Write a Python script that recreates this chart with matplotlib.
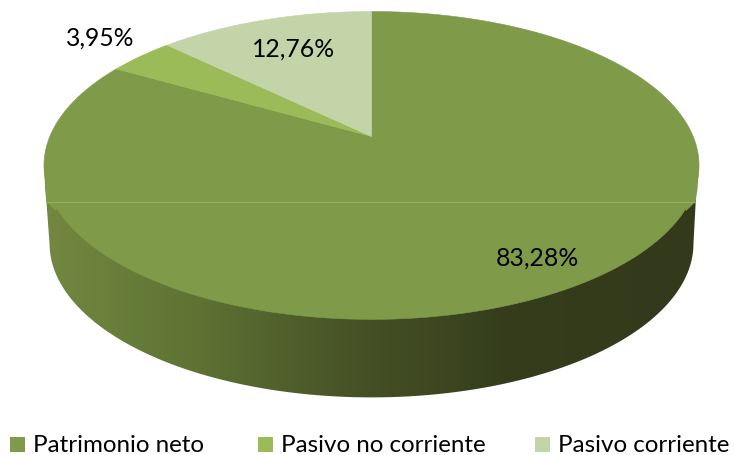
import numpy as np
import matplotlib
matplotlib.use("Agg")
import matplotlib.pyplot as plt
from matplotlib.colors import LinearSegmentedColormap
from matplotlib.patches import Polygon, Rectangle

plt.rcParams["font.family"] = ["Lato", "DejaVu Sans"]

categories = ["Patrimonio neto", "Pasivo no corriente", "Pasivo corriente"]
shares = [83.28, 3.95, 12.76]
share_labels = ["83,28%", "3,95%", "12,76%"]
colors = ["#7f9a48", "#9bbb59", "#c3d5a8"]
wall_stops = [0.0, 0.02, 0.13, 0.24, 0.39, 0.5, 0.59, 0.7, 1.0]
wall_colors = ["#73883f", "#71873f", "#667c39", "#5e7233", "#4e5d2b", "#454f24", "#3f4821", "#353d1c", "#323a1b"]

# pie geometry in pixels, the disc is a tilted circle seen in perspective
CX, CY = 371.5, 137.5
RX, RY = 321.7, 148.5
K = 0.188
DEPTH = 78
WALL_SCALE = 0.983


def rim(t, scale=1.0, dy=0.0):
    """Project angle t (clockwise from the top, radians) onto the disc."""
    u, v = np.sin(t), np.cos(t)
    w = 1 + K * v
    return CX + scale * RX * u / w, CY - RY * v / w + dy


fig = plt.figure(figsize=(7.34, 4.56), dpi=100)
ax = fig.add_axes([0, 0, 1, 1])

# side wall, horizontal gradient clipped to the lower rim
t_side = np.arccos(-K)
t_wall = np.linspace(t_side, 2 * np.pi - t_side, 240)
xb, yb = rim(t_wall, WALL_SCALE, DEPTH)
wall_pts = np.vstack([[696, 197], np.column_stack([xb, yb]), [46, 197]])
clip = Polygon(wall_pts, closed=True, transform=ax.transData, fc="none", ec="none")
ax.add_patch(clip)
cmap = LinearSegmentedColormap.from_list("wall", list(zip(wall_stops, wall_colors)))
im = ax.imshow(np.linspace(0, 1, 256)[None, :], extent=[44, 697, 400, 190], aspect="auto", cmap=cmap)
im.set_clip_path(clip)

# top face, slices run clockwise from 12 o'clock
start = 0.0
for share, color in zip(shares, colors):
    sweep = share / sum(shares) * 2 * np.pi
    t = np.linspace(start, start + sweep, 300)
    x, y = rim(t)
    pts = np.vstack([[CX, CY], np.column_stack([x, y])])
    ax.add_patch(Polygon(pts, closed=True, fc=color, ec=color, lw=0.4, zorder=3))
    start += sweep

# the disc is a bit boxier than an ellipse just above the seam
ax.add_patch(Polygon([(44.2, 166), (45, 190), (46.5, 203), (56, 212), (70, 166)], closed=True, fc=colors[0], ec="none", zorder=3))
ax.add_patch(Polygon([(699, 166), (697.5, 190), (695.5, 203), (686, 212), (672, 166)], closed=True, fc=colors[0], ec="none", zorder=3))

# faint seam across the disc
ax.plot([47, 695], [203, 203], color="#95ad66", lw=0.8, zorder=4)

label_pos = [(537, 258), (100, 38), (294, 49)]
for text, (lx, ly) in zip(share_labels, label_pos):
    ax.text(lx, ly, text, ha="center", va="center", fontsize=17.8, color="black", zorder=5)

legend_x = [10, 258, 535]
for name, color, lx in zip(categories, colors, legend_x):
    ax.add_patch(Rectangle((lx, 438), 15, 15, fc=color, ec="none"))
    ax.text(lx + 23, 446, name, ha="left", va="center", fontsize=17.4, color="black")

ax.set_xlim(0, 734)
ax.set_ylim(456, 0)
ax.axis("off")

fig.savefig("out.png", dpi=100)
